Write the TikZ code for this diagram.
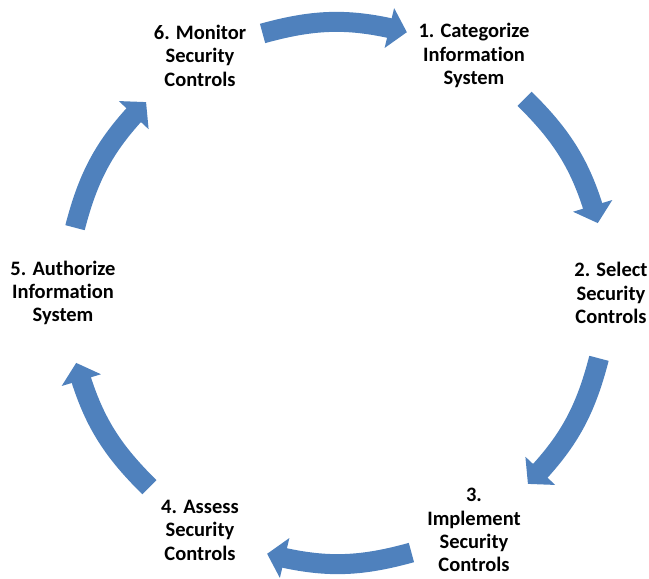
\documentclass[tikz,border=0pt]{standalone}
\usepackage{fontspec}
\setmainfont[Ligatures={NoCommon}]{Carlito}
\usetikzlibrary{arrows.meta,bending}
\newcommand{\MYRAD}{274}
\newcommand{\ARCRAD}{270}
\definecolor{myblue}{RGB}{79,129,189}

\begin{document}
\begin{tikzpicture}[x=1pt,y=1pt,
    stepnode/.style={align=center,inner sep=0pt,
      font=\bfseries\fontsize{20.5}{23.3}\selectfont},
    cyclearrow/.style={myblue,line width=20pt,
      -{Triangle[width=40pt,length=18pt]}}]

    \useasboundingbox (-337,293) rectangle (312,-286);

    % the six steps, on a hexagon
    \node[stepnode](s1) at (60:\MYRAD) {1. Categorize\\Information\\System};
    \node[stepnode](s2) at (0:\MYRAD) {2. Select\\Security\\Controls};
    \node[stepnode](s3) at (-60:\MYRAD) {3.\\Implement\\Security\\Controls};
    \node[stepnode](s4) at (-120:\MYRAD) {4. Assess\\Security\\Controls};
    \node[stepnode](s5) at (180:\MYRAD) {5. Authorize\\Information\\System};
    \node[stepnode](s6) at (120:\MYRAD) {6. Monitor\\Security\\Controls};

    \foreach \a [count=\i] in {90,30,-30,-90,-150,150}{% one arrow
      % between each pair of steps
      \coordinate (as\i) at (\a+16:\ARCRAD);
      \coordinate (at\i) at (\a-15:\ARCRAD);
      \draw[cyclearrow] (as\i) to[bend left=15] (at\i);
    }

\end{tikzpicture}
\end{document}
